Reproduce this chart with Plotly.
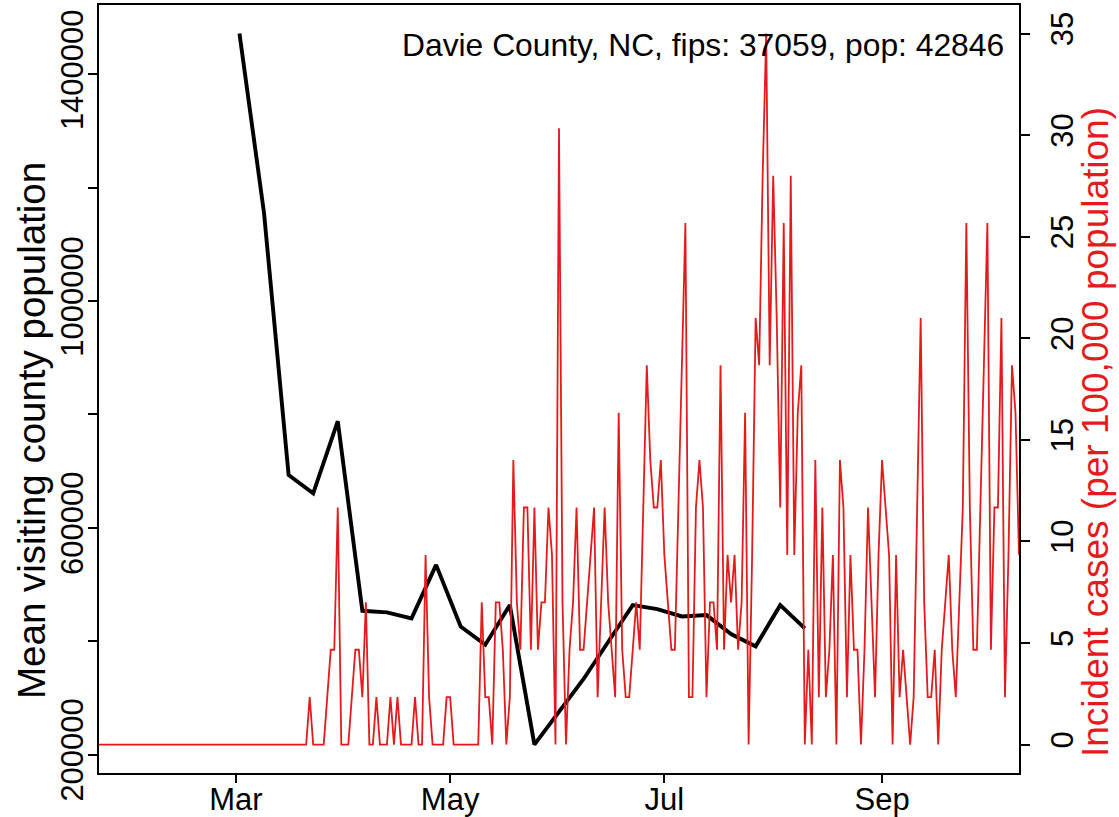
import pandas as pd
import plotly.graph_objects as go

# ---------------- data ----------------
county_label = "Davie County, NC, fips: 37059, pop: 42846"
population = 42846

# daily incident cases (counts), starting 2020-01-22
case_start = "2020-01-22"
daily_cases = [
    0, 0, 0, 0, 0, 0, 0, 0, 0, 0,
    0, 0, 0, 0, 0, 0, 0, 0, 0, 0,
    0, 0, 0, 0, 0, 0, 0, 0, 0, 0,
    0, 0, 0, 0, 0, 0, 0, 0, 0, 0,
    0, 0, 0, 0, 0, 0, 0, 0, 0, 0,
    0, 0, 0, 0, 0, 0, 0, 0, 0, 0,
    1, 0, 0, 0, 0, 1, 2, 2, 5, 0,
    0, 0, 1, 2, 2, 1, 3, 0, 0, 1,
    0, 0, 0, 1, 0, 1, 0, 0, 0, 0,
    1, 0, 0, 4, 1, 0, 0, 0, 0, 1,
    1, 0, 0, 0, 0, 0, 0, 0, 0, 3,
    1, 1, 0, 3, 3, 2, 0, 1, 6, 3,
    2, 5, 5, 2, 5, 2, 3, 3, 5, 4,
    0, 13, 3, 0, 2, 3, 5, 2, 2, 3,
    4, 5, 1, 3, 5, 3, 2, 1, 7, 2,
    1, 1, 2, 3, 2, 5, 8, 6, 5, 5,
    6, 4, 3, 2, 2, 5, 8, 11, 1, 1,
    5, 6, 5, 1, 3, 3, 2, 8, 2, 4,
    3, 4, 2, 3, 7, 0, 4, 9, 8, 12,
    15, 8, 12, 9, 5, 11, 4, 12, 4, 7,
    8, 0, 2, 0, 6, 1, 5, 1, 2, 4,
    0, 6, 5, 1, 4, 2, 2, 0, 2, 5,
    3, 1, 4, 6, 5, 4, 0, 4, 1, 2,
    1, 0, 1, 5, 9, 3, 1, 1, 2, 0,
    2, 3, 4, 2, 1, 3, 5, 11, 5, 2,
    2, 5, 8, 11, 2, 5, 5, 9, 1, 4,
    8, 7, 4,
]

# weekly mean visiting county population, starting 2020-03-02
visit_start = "2020-03-02"
mean_visiting = [
    1472300, 1155300, 693100, 660900, 788200, 453600, 450800, 440200,
    534600, 425800, 393700, 463600, 217600, 275200, 333300, 398500,
    463600, 456600, 443700, 446000, 412600, 390900, 463600, 422600,
]

x_tick_dates = ["2020-03-01", "2020-05-01", "2020-07-01", "2020-09-01"]
x_tick_labels = ["Mar", "May", "Jul", "Sep"]
left_ticks = [200000, 400000, 600000, 800000, 1000000, 1200000, 1400000]
left_tick_labels = ["200000", "", "600000", "", "1000000", "", "1400000"]
right_ticks = [0, 5, 10, 15, 20, 25, 30, 35]
left_title = "Mean visiting county population"
right_title = "Incident cases (per 100,000 population)"

# ---------------- derived ----------------
case_dates = pd.date_range(case_start, periods=len(daily_cases), freq="D")
case_rate = [c * 100000 / population for c in daily_cases]
visit_dates = pd.date_range(visit_start, periods=len(mean_visiting), freq="7D")


def r_range(vals, frac=0.04):
    lo, hi = min(vals), max(vals)
    pad = (hi - lo) * frac
    return [lo - pad, hi + pad]


RED = "#E41A1C"
FONT = "Liberation Sans, Arial, Helvetica, sans-serif"
W, H = 1119, 817
ML, MR, MT, MB = 99, 100, 5, 44
PW, PH = W - ML - MR, H - MT - MB


def px_x(px):
    return (px - ML) / PW


def px_y(py):
    return (H - MB - py) / PH


fig = go.Figure()
fig.add_trace(go.Scatter(
    x=visit_dates, y=mean_visiting, mode="lines",
    line=dict(color="black", width=3.9), yaxis="y", showlegend=False,
))
fig.add_trace(go.Scatter(
    x=case_dates, y=case_rate, mode="lines",
    line=dict(color=RED, width=1.8), yaxis="y2", showlegend=False,
))

axis_common = dict(
    showgrid=False, zeroline=False, showline=True, linecolor="black",
    linewidth=1.5, ticks="outside", tickcolor="black", tickwidth=1.5,
    automargin=False,
    tickfont=dict(size=31, color="black", family=FONT),
)

fig.update_layout(
    template="none",
    width=W, height=H,
    margin=dict(l=ML, r=MR, t=MT, b=MB, pad=0, autoexpand=False),
    paper_bgcolor="white", plot_bgcolor="white",
    font=dict(family=FONT, color="black"),
    showlegend=False,
    xaxis=dict(
        type="date",
        range=[case_dates[0], case_dates[-1]],
        tickvals=x_tick_dates, ticktext=x_tick_labels,
        ticklen=8, mirror=True, ticklabelstandoff=-10, **axis_common,
    ),
    yaxis=dict(
        range=r_range(mean_visiting),
        tickvals=left_ticks, ticktext=left_tick_labels,
        tickangle=-90, ticklen=9, mirror=True, ticklabelstandoff=-7,
        **axis_common,
    ),
    yaxis2=dict(
        range=r_range(case_rate),
        overlaying="y", side="right",
        tickvals=right_ticks, ticktext=[str(v) for v in right_ticks],
        tickangle=-90, ticklen=9, ticklabelstandoff=6, **axis_common,
    ),
    annotations=[
        dict(text=county_label, xref="paper", yref="paper",
             x=px_x(1006), y=px_y(45), xanchor="right", yanchor="middle",
             showarrow=False, font=dict(size=31.8, color="black", family=FONT)),
        dict(text=left_title, xref="paper", yref="paper",
             x=px_x(31), y=px_y(431), xanchor="center", yanchor="middle",
             textangle=-90, showarrow=False,
             font=dict(size=38.5, color="black", family=FONT)),
        dict(text=right_title, xref="paper", yref="paper",
             x=px_x(1096), y=px_y(432), xanchor="center", yanchor="middle",
             textangle=-90, showarrow=False,
             font=dict(size=37, color=RED, family=FONT)),
    ],
)

fig.write_html("out.html", config={"displayModeBar": False},
               post_script="document.body.style.margin='0px';")
